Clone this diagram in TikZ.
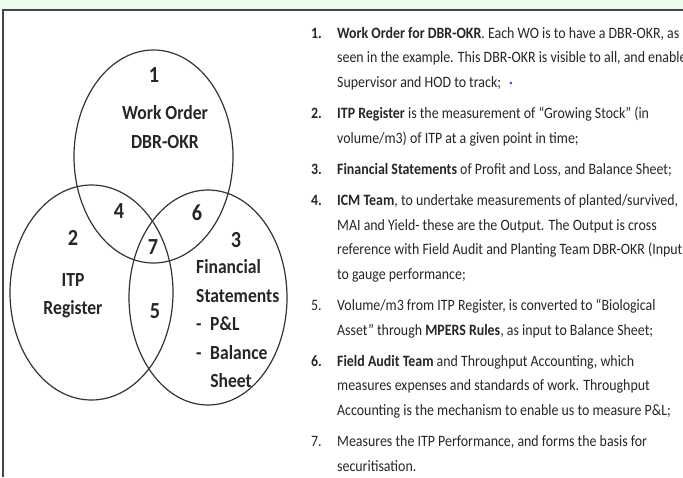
\documentclass[tikz,border=0pt]{standalone}
\usepackage{fontspec}
\setmainfont{Carlito}
\usepackage{xcolor}
\usetikzlibrary{
    shapes.geometric,
    positioning
}
\definecolor{stripgreen}{HTML}{EFFBEF}
\definecolor{framegray}{HTML}{3E483E}
\definecolor{inkgray}{HTML}{333333}
\definecolor{dotblue}{HTML}{3355CC}

\tikzset{
    venn/.style={ellipse, draw=inkgray, line width=1.2pt, inner sep=0pt},
    vtext/.style={font=\fontsize{20}{28.5}\selectfont\bfseries, xscale=0.88, inner sep=0pt, text=black!85},
    vnum/.style={font=\fontsize{23}{27}\selectfont\bfseries, xscale=0.88, inner sep=0pt, text=black!85},
    body/.style={font=\fontsize{15.8}{24.6}\selectfont, xscale=0.88, anchor=base west, inner sep=0pt, text=black!85},
    bluedot/.style={circle, fill=dotblue, inner sep=0pt, minimum size=3pt}
}

\begin{document}
\begin{tikzpicture}[x=1pt, y=-1pt]
    \useasboundingbox (0, 0) rectangle (683, 477);
    \fill[stripgreen] (0, 0) rectangle (683, 10);
    \draw[framegray, line width=2pt] (2.5, 477) -- (2.5, 10) -- (683, 10);

    % the three sets
    \node[venn, minimum width=159pt, minimum height=213pt] (wo) at (153.5, 156.5) {};
    \node[venn, minimum width=163pt, minimum height=215pt] (itp) at (91.5, 292.5) {};
    \node[venn, minimum width=158pt, minimum height=215pt] (fs) at (208, 297.5) {};

    \node[vnum] (r1) at (154, 75) {1};
    \node[vtext, align=center] (wol) at (165, 127) {Work Order\\DBR-OKR};
    \node[vnum] (r2) at (73, 238) {2};
    \node[vtext, align=center] (itpl) at (73, 295.5) {ITP\\Register};
    \node[vnum] (r3) at (236, 240) {3};
    \node[vtext, align=left, anchor=north west] (fsl) at (196, 259.5)
        {Financial\\Statements\\\makebox[16pt][l]{-}P\&L\\\makebox[16pt][l]{-}Balance\\\hspace*{16pt}Sheet};
    \node[vnum] (r4) at (119, 211) {4};
    \node[vnum] (r6) at (197, 213) {6};
    \node[vnum] (r7) at (153, 247) {7};
    \node[vnum] (r5) at (155, 311) {5};

    % the notes
    \node[body] (n1) at (311, 38) {\textbf{1.}};
    \node[body] (t1a) at (337, 38) {\textbf{Work Order for DBR-OKR}. Each WO is to have a DBR-OKR, as};
    \node[body] (t1b) at (337, 62.6) {seen in the example. This DBR-OKR is visible to all, and enable};
    \node[body] (t1c) at (337, 87.2) {Supervisor and HOD to track;};
    \node[bluedot, right=8pt of t1c] (cursor) {};

    \node[body] (n2) at (311, 118.4) {\textbf{2.}};
    \node[body] (t2a) at (337, 118.4) {\textbf{ITP Register} is the measurement of ``Growing Stock'' (in};
    \node[body] (t2b) at (337, 143) {volume/m3) of ITP at a given point in time;};

    \node[body] (n3) at (311, 174.2) {\textbf{3.}};
    \node[body] (t3a) at (337, 174.2) {\textbf{Financial Statements} of Profit and Loss, and Balance Sheet;};

    \node[body] (n4) at (311, 205.4) {\textbf{4.}};
    \node[body] (t4a) at (337, 205.4) {\textbf{ICM Team}, to undertake measurements of planted/survived,};
    \node[body] (t4b) at (337, 230) {MAI and Yield- these are the Output. The Output is cross};
    \node[body] (t4c) at (337, 254.6) {reference with Field Audit and Planting Team DBR-OKR (Input)};
    \node[body] (t4d) at (337, 279.2) {to gauge performance;};

    \node[body] (n5) at (311, 310.4) {5.};
    \node[body] (t5a) at (337, 310.4) {Volume/m3 from ITP Register, is converted to ``Biological};
    \node[body] (t5b) at (337, 335) {Asset'' through \textbf{MPERS Rules}, as input to Balance Sheet;};

    \node[body] (n6) at (311, 366.2) {\textbf{6.}};
    \node[body] (t6a) at (337, 366.2) {\textbf{Field Audit Team} and Throughput Accounting, which};
    \node[body] (t6b) at (337, 390.8) {measures expenses and standards of work. Throughput};
    \node[body] (t6c) at (337, 415.4) {Accounting is the mechanism to enable us to measure P\&L;};

    \node[body] (n7) at (311, 446.6) {7.};
    \node[body] (t7a) at (337, 446.6) {Measures the ITP Performance, and forms the basis for};
    \node[body] (t7b) at (337, 471.2) {securitisation.};
\end{tikzpicture}
\end{document}
